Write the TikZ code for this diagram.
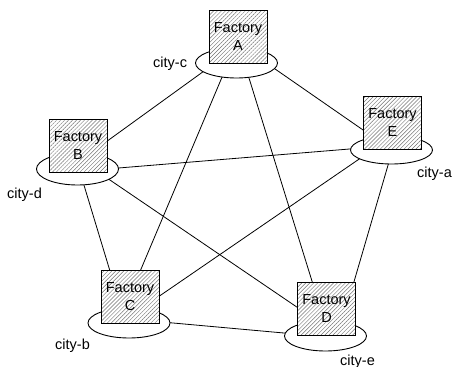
\documentclass[tikz,border=0pt]{standalone}
\usepackage{fontspec}
\setmainfont{Liberation Sans}
\usetikzlibrary{shapes.geometric,patterns.meta,calc}
\begin{document}
\begin{tikzpicture}[x=1pt,y=-1pt,
  city/.style={ellipse, draw, line width=0.9pt, fill=white, minimum width=82pt, minimum height=30pt, inner sep=0pt},
  factory/.style={draw, line width=1pt, minimum width=58pt, minimum height=53pt, inner sep=0pt, align=center,
    font=\fontsize{14.5}{18}\selectfont, preaction={fill=white},
    pattern={Lines[angle=45,distance=2.8pt,line width=0.45pt]}, pattern color=black!55},
  lbl/.style={font=\fontsize{14.5}{18}\selectfont, inner sep=0pt, anchor=base west},
  link/.style={line width=0.8pt}]
\useasboundingbox (0,0) rectangle (456,367);
% city ellipses and factory boxes (positions)
\coordinate (pA) at (236.5,63);
\coordinate (pB) at (77.5,169);
\coordinate (pC) at (129,323);
\coordinate (pD) at (325.5,336);
\coordinate (pE) at (391.5,150);
\coordinate (qA) at (238,36.5);
\coordinate (qB) at (78,145.5);
\coordinate (qC) at (130,297);
\coordinate (qD) at (326.5,309);
\coordinate (qE) at (392.5,122.5);
% connectors (drawn first, hidden under shapes)
\draw[link] ($(pA)+(-25.5,3)$) -- ($(qB)+(21,1.5)$);
\draw[link] ($(pA)+(-8.5,0)$) -- ($(qC)+(6,-16)$);
\draw[link] ($(pA)+(8,0.5)$) -- ($(qD)+(-10.5,-15)$);
\draw[link] ($(pA)+(28.5,-1)$) -- ($(qE)+(-21.5,13)$);
\draw[link] ($(pB)+(32.5,-0.3)$) -- ($(pE)+(-33.5,-1.7)$);
\draw[link] ($(pB)+(24.5,5.6)$) -- ($(qD)+(-21.5,3.6)$);
\draw[link] ($(pB)+(2.5,3)$) -- ($(qC)+(-17,-16)$);
\draw[link] ($(pE)+(-23.5,3)$) -- ($(qC)+(20,5.5)$);
\draw[link] ($(pC)+(33,-1)$) -- ($(pD)+(-30.5,-2)$);
\draw[link] ($(pE)+(-0.5,5)$) -- ($(qD)+(24.5,-17)$);
% ellipses
\node[city] (eA) at (pA) {};
\node[city, minimum height=32pt] (eB) at (pB) {};
\node[city] (eC) at (pC) {};
\node[city] (eD) at (pD) {};
\node[city, minimum height=28pt] (eE) at (pE) {};
% boxes
\node[factory] (fA) at (qA) {Factory\\A};
\node[factory] (fB) at (qB) {Factory\\B};
\node[factory] (fC) at (qC) {Factory\\C};
\node[factory] (fD) at (qD) {Factory\\D};
\node[factory] (fE) at (qE) {Factory\\E};
% labels
\node[lbl] (lc) at (153,67) {city-c};
\node[lbl] (ld) at (7,198) {city-d};
\node[lbl] (la) at (417,177) {city-a};
\node[lbl] (lb) at (55,349) {city-b};
\node[lbl] (le) at (340,365) {city-e};
\end{tikzpicture}
\end{document}
